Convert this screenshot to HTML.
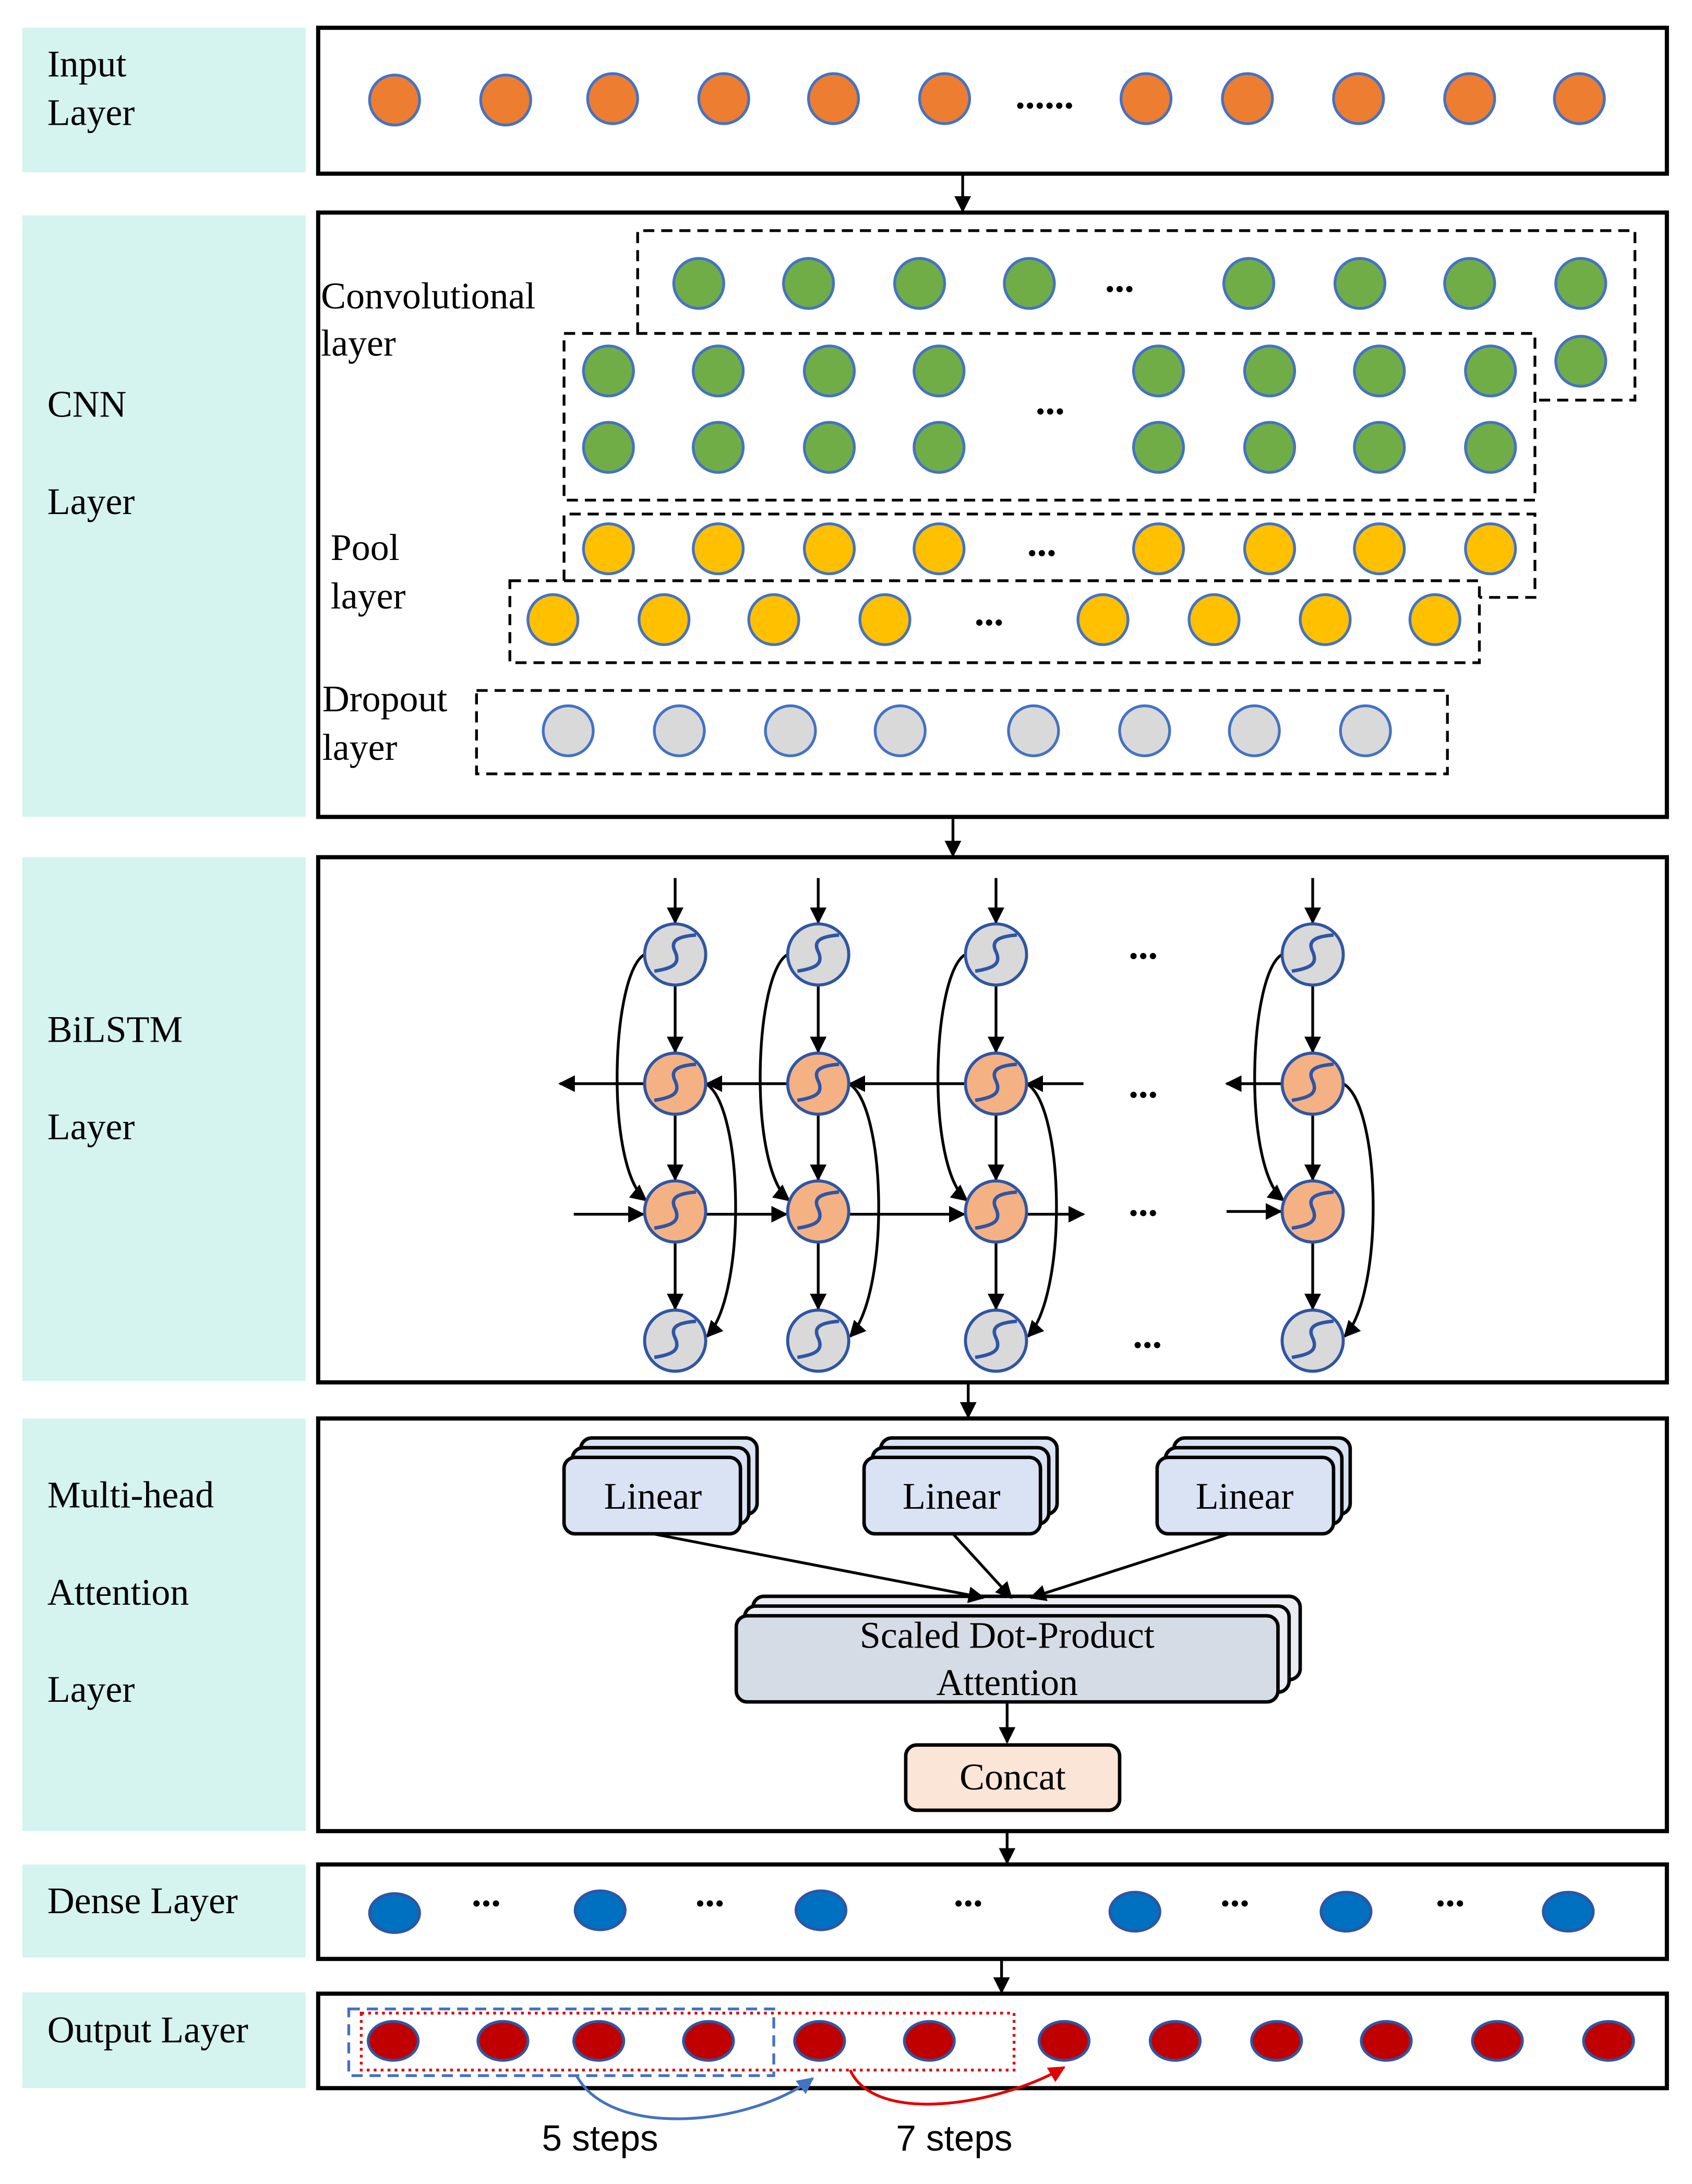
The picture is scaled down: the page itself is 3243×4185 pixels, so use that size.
<!DOCTYPE html>
<html><head><meta charset="utf-8"><style>html,body{margin:0;padding:0;background:#fff}svg{display:block}</style></head><body>
<svg xmlns="http://www.w3.org/2000/svg" width="3243" height="4185" viewBox="0 0 1218 1572" font-family="'Liberation Serif',serif">
<defs>
<marker id="a" viewBox="0 0 10 10" refX="9" refY="5" markerWidth="6" markerHeight="6" orient="auto-start-reverse"><path d="M0,0L10,5L0,10z" fill="#000"/></marker>
<marker id="ab" viewBox="0 0 10 10" refX="9" refY="5" markerWidth="6" markerHeight="6" orient="auto"><path d="M0,0L10,5L0,10z" fill="#4472c4"/></marker>
<marker id="ar" viewBox="0 0 10 10" refX="9" refY="5" markerWidth="6" markerHeight="6" orient="auto"><path d="M0,0L10,5L0,10z" fill="#e00000"/></marker>
<g id="ng"><circle r="22" fill="#d9d9d9" stroke="#2f55a4" stroke-width="2.2"/><path d="M-15,12 C-2,10 4,7 0,-2 C-4,-10 2,-13 15,-14" fill="none" stroke="#2f55a4" stroke-width="2.5"/></g>
<g id="no"><circle r="22" fill="#f4b183" stroke="#2f55a4" stroke-width="2.2"/><path d="M-15,12 C-2,10 4,7 0,-2 C-4,-10 2,-13 15,-14" fill="none" stroke="#2f55a4" stroke-width="2.5"/></g>
<circle id="co" r="18" fill="#ed7d31" stroke="#4472c4" stroke-width="2"/>
<circle id="cg" r="18" fill="#70ad47" stroke="#4472c4" stroke-width="2"/>
<circle id="cy" r="18" fill="#ffc000" stroke="#4472c4" stroke-width="2"/>
<circle id="cd" r="18" fill="#d9d9d9" stroke="#4472c4" stroke-width="2"/>
<ellipse id="eb" rx="18" ry="14" fill="#0070c0" stroke="#2f55a4" stroke-width="2"/>
<ellipse id="er" rx="18" ry="14" fill="#c00000" stroke="#2f55a4" stroke-width="2"/>
</defs>
<g fill="#d5f3ef">
<rect x="16" y="20" width="204" height="104"/><rect x="16" y="155" width="204" height="433"/><rect x="16" y="617" width="204" height="377"/><rect x="16" y="1021" width="204" height="297"/><rect x="16" y="1342" width="204" height="67"/><rect x="16" y="1434" width="204" height="69"/>
</g>
<g font-size="27" fill="#000">
<text x="34" y="55">Input</text><text x="34" y="90">Layer</text>
<text x="34" y="300">CNN</text><text x="34" y="370">Layer</text>
<text x="34" y="750">BiLSTM</text><text x="34" y="820">Layer</text>
<text x="34" y="1085">Multi-head</text><text x="34" y="1155">Attention</text><text x="34" y="1225">Layer</text>
<text x="34" y="1377">Dense Layer</text><text x="34" y="1470">Output Layer</text>
</g>
<g fill="none" stroke="#000" stroke-width="3">
<rect x="229" y="20" width="971" height="105"/><rect x="229" y="153" width="971" height="435"/><rect x="229" y="617" width="971" height="378"/><rect x="229" y="1021" width="971" height="297"/><rect x="229" y="1342" width="971" height="68"/><rect x="229" y="1435" width="971" height="68"/>
</g>
<g stroke="#000" stroke-width="2" marker-end="url(#a)">
<line x1="693" y1="125" x2="693" y2="152"/><line x1="686" y1="588" x2="686" y2="616"/><line x1="697" y1="995" x2="697" y2="1020"/><line x1="725" y1="1318" x2="725" y2="1341"/><line x1="721" y1="1410" x2="721" y2="1434"/>
</g>
<g><use href="#co" x="284" y="72"/><use href="#co" x="364" y="72"/><use href="#co" x="441" y="71"/><use href="#co" x="521" y="71"/><use href="#co" x="600" y="71"/><use href="#co" x="680" y="71"/><use href="#co" x="825" y="71"/><use href="#co" x="898" y="71"/><use href="#co" x="978" y="71"/><use href="#co" x="1058" y="71"/><use href="#co" x="1137" y="71"/></g>
<text x="752" y="78" font-size="28" text-anchor="middle" font-weight="bold">......</text>
<g fill="none" stroke="#000" stroke-width="2" stroke-dasharray="8,5">
<path d="M459,240 L459,166 L1177,166 L1177,288 L1105,288"/>
<rect x="406" y="240" width="699" height="120"/>
<path d="M406,418 L406,370 L1105,370 L1105,430 L1065,430"/>
<rect x="367" y="418" width="698" height="59"/>
<rect x="343" y="497" width="699" height="60"/>
</g>
<g font-size="27"><text x="231" y="222">Convolutional</text><text x="231" y="256">layer</text><text x="238" y="403">Pool</text><text x="238" y="438">layer</text><text x="232" y="512">Dropout</text><text x="232" y="547">layer</text></g>
<g>
<use href="#cg" x="503" y="204"/><use href="#cg" x="582" y="204"/><use href="#cg" x="662" y="204"/><use href="#cg" x="741" y="204"/><use href="#cg" x="899" y="204"/><use href="#cg" x="979" y="204"/><use href="#cg" x="1058" y="204"/><use href="#cg" x="1138" y="204"/><use href="#cg" x="1138" y="260"/>
<use href="#cg" x="438" y="267"/><use href="#cg" x="517" y="267"/><use href="#cg" x="597" y="267"/><use href="#cg" x="676" y="267"/><use href="#cg" x="834" y="267"/><use href="#cg" x="914" y="267"/><use href="#cg" x="993" y="267"/><use href="#cg" x="1073" y="267"/>
<use href="#cg" x="438" y="322"/><use href="#cg" x="517" y="322"/><use href="#cg" x="597" y="322"/><use href="#cg" x="676" y="322"/><use href="#cg" x="834" y="322"/><use href="#cg" x="914" y="322"/><use href="#cg" x="993" y="322"/><use href="#cg" x="1073" y="322"/>
<use href="#cy" x="438" y="395"/><use href="#cy" x="517" y="395"/><use href="#cy" x="597" y="395"/><use href="#cy" x="676" y="395"/><use href="#cy" x="834" y="395"/><use href="#cy" x="914" y="395"/><use href="#cy" x="993" y="395"/><use href="#cy" x="1073" y="395"/>
<use href="#cy" x="398" y="446"/><use href="#cy" x="478" y="446"/><use href="#cy" x="557" y="446"/><use href="#cy" x="637" y="446"/><use href="#cy" x="794" y="446"/><use href="#cy" x="874" y="446"/><use href="#cy" x="954" y="446"/><use href="#cy" x="1033" y="446"/>
<use href="#cd" x="409" y="526"/><use href="#cd" x="489" y="526"/><use href="#cd" x="569" y="526"/><use href="#cd" x="648" y="526"/><use href="#cd" x="744" y="526"/><use href="#cd" x="824" y="526"/><use href="#cd" x="903" y="526"/><use href="#cd" x="983" y="526"/>
</g>
<g font-size="28" font-weight="bold" text-anchor="middle"><text x="806" y="210">...</text><text x="756" y="298">...</text><text x="750" y="400">...</text><text x="712" y="450">...</text></g>
<g stroke="#000" stroke-width="2" marker-end="url(#a)" fill="none">
<line x1="486" y1="632" x2="486" y2="664"/><line x1="589" y1="632" x2="589" y2="664"/><line x1="717" y1="632" x2="717" y2="664"/><line x1="945" y1="632" x2="945" y2="664"/>
<line x1="486" y1="709" x2="486" y2="757"/><line x1="589" y1="709" x2="589" y2="757"/><line x1="717" y1="709" x2="717" y2="757"/><line x1="945" y1="709" x2="945" y2="757"/>
<line x1="486" y1="802" x2="486" y2="849"/><line x1="589" y1="802" x2="589" y2="849"/><line x1="717" y1="802" x2="717" y2="849"/><line x1="945" y1="802" x2="945" y2="849"/>
<line x1="486" y1="894" x2="486" y2="942"/><line x1="589" y1="894" x2="589" y2="942"/><line x1="717" y1="894" x2="717" y2="942"/><line x1="945" y1="894" x2="945" y2="942"/>
<line x1="780" y1="780" x2="740" y2="780"/><line x1="695" y1="780" x2="612" y2="780"/><line x1="567" y1="780" x2="509" y2="780"/><line x1="464" y1="780" x2="403" y2="780"/><line x1="925" y1="780" x2="883" y2="780"/>
<line x1="413" y1="874" x2="463" y2="874"/><line x1="508" y1="874" x2="566" y2="874"/><line x1="611" y1="874" x2="694" y2="874"/><line x1="739" y1="874" x2="780" y2="874"/><line x1="883" y1="872" x2="922" y2="872"/>
<path d="M464,687 C440,700 435,840 465,864"/><path d="M567,687 C543,700 538,840 568,864"/><path d="M695,687 C671,700 666,840 696,864"/><path d="M923,687 C899,700 894,840 924,864"/>
<path d="M508,780 C535,795 538,930 509,962"/><path d="M611,780 C638,795 641,930 612,962"/><path d="M739,780 C766,795 769,930 740,962"/><path d="M967,780 C994,795 997,930 968,962"/>
</g>
<g>
<use href="#ng" x="486" y="687"/><use href="#ng" x="589" y="687"/><use href="#ng" x="717" y="687"/><use href="#ng" x="945" y="687"/>
<use href="#no" x="486" y="780"/><use href="#no" x="589" y="780"/><use href="#no" x="717" y="780"/><use href="#no" x="945" y="780"/>
<use href="#no" x="486" y="872"/><use href="#no" x="589" y="872"/><use href="#no" x="717" y="872"/><use href="#no" x="945" y="872"/>
<use href="#ng" x="486" y="965"/><use href="#ng" x="589" y="965"/><use href="#ng" x="717" y="965"/><use href="#ng" x="945" y="965"/>
</g>
<g font-size="28" font-weight="bold" text-anchor="middle"><text x="823" y="690">...</text><text x="823" y="790">...</text><text x="823" y="875">...</text><text x="826" y="970">...</text></g>
<g stroke="#000" stroke-width="2.5" fill="#dae3f3">
<rect x="418" y="1035" width="127" height="55" rx="8"/><rect x="412" y="1042" width="127" height="55" rx="8"/><rect x="406" y="1049" width="127" height="55" rx="8"/>
<rect x="634" y="1035" width="127" height="55" rx="8"/><rect x="628" y="1042" width="127" height="55" rx="8"/><rect x="622" y="1049" width="127" height="55" rx="8"/>
<rect x="845" y="1035" width="127" height="55" rx="8"/><rect x="839" y="1042" width="127" height="55" rx="8"/><rect x="833" y="1049" width="127" height="55" rx="8"/>
<rect x="542" y="1149" width="394" height="60" rx="8" fill="#e9ecf2"/><rect x="536" y="1156" width="392" height="62" rx="8" fill="#e9ecf2"/><rect x="530" y="1163" width="390" height="62" rx="8" fill="#d6dce5"/>
<rect x="652" y="1256" width="154" height="47" rx="8" fill="#fbe5d6"/>
</g>
<g font-size="27" text-anchor="middle"><text x="470" y="1086">Linear</text><text x="685" y="1086">Linear</text><text x="896" y="1086">Linear</text><text x="725" y="1186">Scaled Dot-Product</text><text x="725" y="1220">Attention</text><text x="729" y="1288">Concat</text></g>
<g stroke="#000" stroke-width="2" marker-end="url(#a)">
<line x1="470" y1="1104" x2="708" y2="1150"/><line x1="686" y1="1104" x2="728" y2="1150"/><line x1="885" y1="1104" x2="742" y2="1150"/><line x1="725" y1="1225" x2="725" y2="1254"/>
</g>
<g><use href="#eb" x="284" y="1377"/><use href="#eb" x="432" y="1375"/><use href="#eb" x="591" y="1375"/><use href="#eb" x="817" y="1376"/><use href="#eb" x="969" y="1376"/><use href="#eb" x="1129" y="1376"/></g>
<g font-size="28" font-weight="bold" text-anchor="middle"><text x="350" y="1372">...</text><text x="511" y="1372">...</text><text x="697" y="1372">...</text><text x="889" y="1372">...</text><text x="1044" y="1372">...</text></g>
<g><use href="#er" x="283" y="1469"/><use href="#er" x="362" y="1469"/><use href="#er" x="431" y="1469"/><use href="#er" x="510" y="1469"/><use href="#er" x="590" y="1469"/><use href="#er" x="669" y="1469"/><use href="#er" x="766" y="1469"/><use href="#er" x="846" y="1469"/><use href="#er" x="919" y="1469"/><use href="#er" x="998" y="1469"/><use href="#er" x="1078" y="1469"/><use href="#er" x="1158" y="1469"/></g>
<rect x="251" y="1446" width="306" height="48" fill="none" stroke="#4472c4" stroke-width="2" stroke-dasharray="8,5"/>
<rect x="260" y="1449" width="470" height="41" fill="none" stroke="#e00000" stroke-width="2" stroke-dasharray="2,3"/>
<path d="M415,1494 C440,1540 540,1530 585,1496" fill="none" stroke="#4472c4" stroke-width="2" marker-end="url(#ab)"/>
<path d="M612,1490 C630,1530 720,1515 766,1488" fill="none" stroke="#e00000" stroke-width="2" marker-end="url(#ar)"/>
<g font-family="'Liberation Sans',sans-serif" font-size="26"><text x="390" y="1548">5 steps</text><text x="645" y="1548">7 steps</text></g>
</svg>
</body></html>
